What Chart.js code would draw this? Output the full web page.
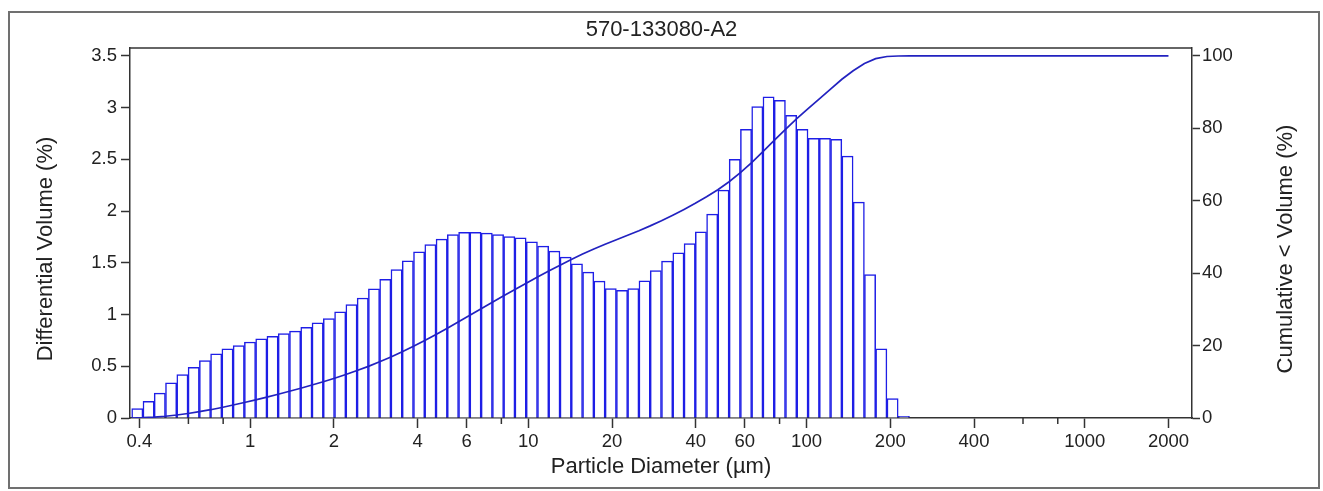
<!DOCTYPE html>
<html lang="en">
  <head>
    <meta charset="UTF-8" />
    <title>570-133080-A2</title>
    <script src="https://cdn.jsdelivr.net/npm/chart.js"></script>
    <style>
      html,
      body {
        margin: 0;
        padding: 0;
        background: #ffffff;
      }

      .chart-container {
        position: relative;
        width: 1323px;
        height: 491px;
      }
    </style>
  </head>

  <body>
    <div class="chart-container">
      <canvas id="psdChart"></canvas>
    </div>

    <script>
      // channel edges of the analyzer (um), 69 channels
      const SIZE_EDGES = [
        0.375, 0.412, 0.452, 0.496, 0.545, 0.598, 0.657, 0.721, 0.791, 0.869,
        0.953, 1.047, 1.149, 1.261, 1.385, 1.52, 1.669, 1.832, 2.011, 2.208,
        2.424, 2.661, 2.921, 3.207, 3.521, 3.865, 4.243, 4.658, 5.114, 5.614,
        6.163, 6.766, 7.427, 8.154, 8.951, 9.826, 10.79, 11.84, 13.0, 14.27,
        15.67, 17.2, 18.88, 20.73, 22.75, 24.98, 27.42, 30.1, 33.05, 36.28,
        39.83, 43.72, 48.0, 52.69, 57.85, 63.5, 69.72, 76.53, 84.02, 92.24,
        101.3, 111.2, 122.0, 134.0, 147.1, 161.5, 177.2, 194.6, 213.6, 234.5,
      ];

      // differential volume (%) per channel
      const DIFF_VOLUME = [
        0.09, 0.16, 0.24, 0.34, 0.42, 0.49, 0.555, 0.62, 0.668, 0.7,
        0.735, 0.765, 0.79, 0.816, 0.84, 0.877, 0.92, 0.96, 1.026, 1.097,
        1.16, 1.248, 1.34, 1.435, 1.52, 1.606, 1.677, 1.73, 1.774, 1.794,
        1.794, 1.787, 1.774, 1.755, 1.742, 1.703, 1.661, 1.613, 1.555, 1.49,
        1.41, 1.323, 1.252, 1.235, 1.252, 1.326, 1.426, 1.516, 1.597, 1.687,
        1.8, 1.971, 2.203, 2.5, 2.79, 3.01, 3.106, 3.071, 2.926, 2.79,
        2.703, 2.703, 2.694, 2.532, 2.087, 1.387, 0.668, 0.187, 0.015,
      ];

      // cumulative < volume (%) at each channel edge, then out to 2000 um
      const CUM_SIZES = SIZE_EDGES.concat([2000]);
      const CUM_VOLUME = [
        0, 0.09, 0.25, 0.49, 0.83, 1.25, 1.74, 2.29, 2.91, 3.58,
        4.28, 5.02, 5.78, 6.57, 7.39, 8.23, 9.1, 10.02, 10.98, 12.01,
        13.11, 14.27, 15.52, 16.86, 18.29, 19.81, 21.42, 23.09, 24.82, 26.6,
        28.39, 30.19, 31.97, 33.75, 35.5, 37.24, 38.95, 40.61, 42.22, 43.78,
        45.27, 46.68, 48.0, 49.25, 50.49, 51.74, 53.07, 54.49, 56.01, 57.61,
        59.29, 61.09, 63.06, 65.27, 67.77, 70.56, 73.57, 76.67, 79.75, 82.67,
        85.46, 88.17, 90.87, 93.57, 95.9, 97.9, 99.25, 99.85, 99.99, 100,
        100,
      ];

      const X_TICKS = [0.4, 1, 2, 4, 6, 10, 20, 40, 60, 100, 200, 400, 1000, 2000];
      const X_MINOR_TICKS = [0.6, 0.8, 8, 80, 600, 800];
      const Y_TICKS = [0, 0.5, 1, 1.5, 2, 2.5, 3, 3.5];
      const Y2_TICKS = [0, 20, 40, 60, 80, 100];

      const TITLE = "570-133080-A2";
      const X_TITLE = "Particle Diameter (µm)";
      const Y_TITLE = "Differential Volume (%)";
      const Y2_TITLE = "Cumulative < Volume (%)";

      const AXIS_COLOR = "#333333";
      const TEXT_COLOR = "#222222";
      const FONT = '"Liberation Sans", Arial, sans-serif';

      Chart.defaults.font.family = FONT;
      Chart.defaults.color = TEXT_COLOR;

      const barData = DIFF_VOLUME.map((v, i) => ({
        x: Math.sqrt(SIZE_EDGES[i] * SIZE_EDGES[i + 1]),
        y: v,
      }));
      const cumData = CUM_SIZES.map((s, i) => ({ x: s, y: CUM_VOLUME[i] }));

      // frame, top border of the plot, minor ticks and the two y titles
      const decorations = {
        id: "decorations",
        beforeDraw(chart) {
          const ctx = chart.ctx;
          ctx.save();
          ctx.fillStyle = "#ffffff";
          ctx.fillRect(0, 0, chart.width, chart.height);
          ctx.strokeStyle = "#707070";
          ctx.lineWidth = 2;
          ctx.strokeRect(9, 12, 1310, 476);
          ctx.restore();
        },
        afterDraw(chart) {
          const { ctx, chartArea, scales } = chart;
          ctx.save();
          ctx.strokeStyle = AXIS_COLOR;
          ctx.lineWidth = 1.5;
          ctx.beginPath();
          ctx.moveTo(chartArea.left, chartArea.top);
          ctx.lineTo(chartArea.right, chartArea.top);
          ctx.stroke();

          X_MINOR_TICKS.forEach((v) => {
            const x = scales.x.getPixelForValue(v);
            ctx.beginPath();
            ctx.moveTo(x, chartArea.bottom);
            ctx.lineTo(x, chartArea.bottom + 6);
            ctx.stroke();
          });

          ctx.fillStyle = TEXT_COLOR;
          ctx.font = "22px " + FONT;
          ctx.textAlign = "center";
          ctx.textBaseline = "middle";
          [
            [46, Y_TITLE],
            [1286, Y2_TITLE],
          ].forEach(([x, text]) => {
            ctx.save();
            ctx.translate(x, 249);
            ctx.rotate(-Math.PI / 2);
            ctx.fillText(text, 0, 0);
            ctx.restore();
          });
          ctx.restore();
        },
      };

      const ctx = document.getElementById("psdChart").getContext("2d");

      const psdChart = new Chart(ctx, {
        type: "bar",
        data: {
          datasets: [
            {
              type: "line",
              label: Y2_TITLE,
              data: cumData,
              yAxisID: "y2",
              borderColor: "#2222c0",
              borderWidth: 1.7,
              pointRadius: 0,
              tension: 0,
              fill: false,
              order: 0,
            },
            {
              type: "bar",
              label: Y_TITLE,
              data: barData,
              yAxisID: "y",
              backgroundColor: "#ffffff",
              borderColor: "#1e1ee6",
              borderWidth: 1.5,
              barPercentage: 1,
              categoryPercentage: 1,
              order: 1,
            },
          ],
        },
        options: {
          responsive: true,
          maintainAspectRatio: false,
          animation: false,
          layout: { padding: 0 },
          plugins: {
            legend: { display: false },
            tooltip: { enabled: false },
            title: {
              display: true,
              text: TITLE,
              color: TEXT_COLOR,
              font: { size: 22, weight: "normal" },
              padding: { top: 16.8, bottom: 4.8 },
            },
          },
          scales: {
            x: {
              type: "logarithmic",
              min: 0.37,
              max: 2430,
              bounds: "data",
              offset: false,
              afterBuildTicks: (s) => {
                s.ticks = X_TICKS.map((v) => ({ value: v }));
              },
              afterFit: (s) => {
                s.height = 73;
              },
              grid: {
                offset: false,
                drawOnChartArea: false,
                tickLength: 10,
                tickColor: AXIS_COLOR,
                tickWidth: 1.5,
              },
              border: { color: AXIS_COLOR, width: 1.5 },
              ticks: {
                autoSkip: false,
                maxRotation: 0,
                padding: 3,
                font: { size: 18.5 },
                callback: (v) => String(v),
              },
              title: {
                display: true,
                text: X_TITLE,
                font: { size: 22 },
                padding: { top: 0, bottom: 10.8 },
              },
            },
            y: {
              position: "left",
              min: 0,
              max: 3.577,
              bounds: "data",
              afterBuildTicks: (s) => {
                s.ticks = Y_TICKS.map((v) => ({ value: v }));
              },
              afterFit: (s) => {
                s.width = 130;
              },
              grid: {
                drawOnChartArea: false,
                tickLength: 9,
                tickColor: AXIS_COLOR,
                tickWidth: 1.5,
              },
              border: { color: AXIS_COLOR, width: 1.5 },
              ticks: {
                padding: 4,
                font: { size: 18.5 },
                callback: (v) => String(v),
              },
            },
            y2: {
              position: "right",
              min: 0,
              max: 102.2,
              bounds: "data",
              afterBuildTicks: (s) => {
                s.ticks = Y2_TICKS.map((v) => ({ value: v }));
              },
              afterFit: (s) => {
                s.width = 131;
              },
              grid: {
                drawOnChartArea: false,
                tickLength: 8,
                tickColor: AXIS_COLOR,
                tickWidth: 1.5,
              },
              border: { color: AXIS_COLOR, width: 1.5 },
              ticks: {
                padding: 2,
                font: { size: 18.5 },
                callback: (v) => String(v),
              },
            },
          },
        },
        plugins: [decorations],
      });
    </script>
  </body>
</html>
